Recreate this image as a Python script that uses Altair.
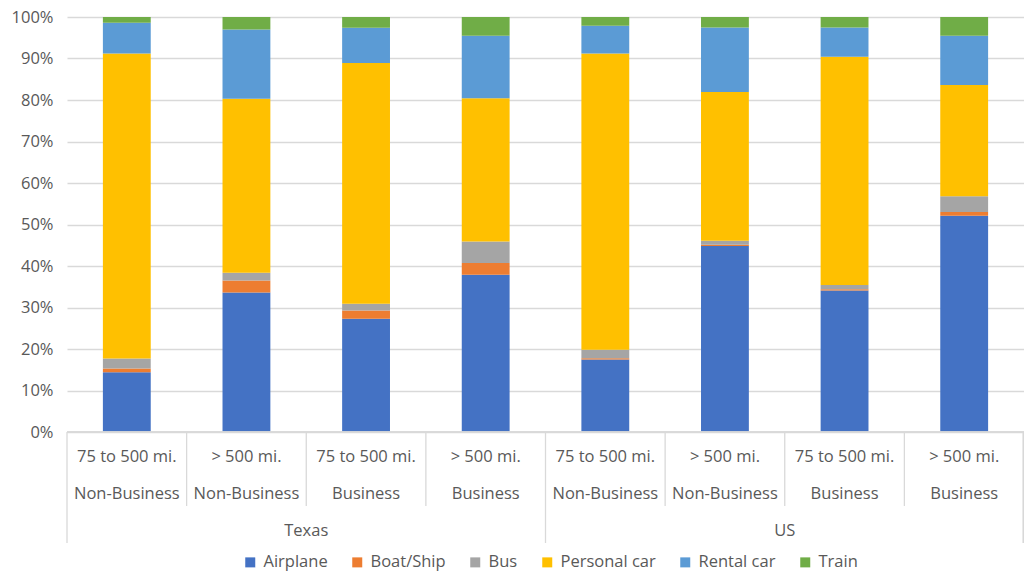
import altair as alt
import pandas as pd

regions = ["Texas"] * 4 + ["US"] * 4
distances = ["75 to 500 mi.", "> 500 mi.", "75 to 500 mi.", "> 500 mi."] * 2
purposes = ["Non-Business", "Non-Business", "Business", "Business"] * 2
modes = ["Airplane", "Boat/Ship", "Bus", "Personal car", "Rental car", "Train"]
colors = ["#4472C4", "#ED7D31", "#A5A5A5", "#FFC000", "#5B9BD5", "#70AD47"]

airplane = [14.4, 33.6, 27.3, 37.9, 17.5, 44.8, 34.1, 52.1]
boat = [0.9, 2.9, 2.0, 2.8, 0.3, 0.3, 0.3, 0.9]
bus = [2.4, 1.9, 1.6, 5.2, 2.0, 1.0, 1.0, 3.8]
personal = [73.5, 41.9, 58.0, 34.5, 71.4, 35.8, 55.0, 26.8]
rental = [7.4, 16.7, 8.5, 15.1, 6.7, 15.6, 7.1, 11.9]
train = [1.4, 3.0, 2.6, 4.5, 2.1, 2.5, 2.5, 4.5]

series = [airplane, boat, bus, personal, rental, train]
keys = [f"c{i}" for i in range(8)]

rows = []
for mi, (m, vals) in enumerate(zip(modes, series)):
    for i, v in enumerate(vals):
        rows.append({"key": keys[i], "mode": m, "order": mi, "value": v})
df = pd.DataFrame(rows)

lab = pd.DataFrame({"key": keys, "dist": distances, "purp": purposes})
groups = pd.DataFrame({"key": ["c2", "c6"], "region": ["Texas", "US"]})
tall = pd.DataFrame({"key": ["c0", "c4"]})
short = pd.DataFrame({"key": ["c1", "c2", "c3", "c5", "c6", "c7"]})

W, H = 957, 415
FONT = "Open Sans"
FS = 16.5
GRAY = "#595959"
LINE = "#d9d9d9"

xenc = alt.X("key:N", sort=keys, axis=None,
             scale=alt.Scale(paddingInner=0, paddingOuter=0))

bars = alt.Chart(df).mark_bar(width={"band": 0.4}).encode(
    x=xenc,
    y=alt.Y("value:Q", stack="normalize",
            scale=alt.Scale(domain=[0, 1], nice=False),
            axis=alt.Axis(format="%", values=[i / 10 for i in range(11)],
                          title=None, domain=False, ticks=False,
                          gridColor=LINE, gridWidth=1.3,
                          labelFont=FONT, labelFontSize=FS, labelColor=GRAY,
                          labelPadding=14)),
    color=alt.Color("mode:N", sort=modes,
                    scale=alt.Scale(domain=modes, range=colors),
                    legend=alt.Legend(title=None, orient="none",
                                      direction="horizontal",
                                      legendX=175, legendY=537,
                                      symbolType="square", symbolSize=100,
                                      symbolStrokeWidth=0,
                                      labelFont=FONT, labelFontSize=FS,
                                      labelColor=GRAY, columnPadding=21,
                                      labelOffset=5)),
    order=alt.Order("order:Q", sort="ascending"),
)

sep_short = alt.Chart(short).mark_rule(color=LINE, strokeWidth=1.3).encode(
    x=alt.X("key:N", sort=keys, bandPosition=0, axis=None),
    y=alt.value(H), y2=alt.value(H + 74),
)
sep_tall = alt.Chart(tall).mark_rule(color=LINE, strokeWidth=1.3).encode(
    x=alt.X("key:N", sort=keys, bandPosition=0, axis=None),
    y=alt.value(H), y2=alt.value(H + 111),
)
sep_right = alt.Chart(tall).mark_rule(color=LINE, strokeWidth=1.3).encode(
    x=alt.value(W - 0.7), y=alt.value(H), y2=alt.value(H + 111),
)
base_line = alt.Chart(tall).mark_rule(color=LINE, strokeWidth=1.3).encode(
    x=alt.value(0), x2=alt.value(W), y=alt.value(H),
)

t1 = alt.Chart(lab).mark_text(font=FONT, fontSize=FS, color=GRAY,
                              baseline="middle").encode(
    x=alt.X("key:N", sort=keys, axis=None), y=alt.value(H + 25), text="dist:N")
t2 = alt.Chart(lab).mark_text(font=FONT, fontSize=FS, color=GRAY,
                              baseline="middle").encode(
    x=alt.X("key:N", sort=keys, axis=None), y=alt.value(H + 62), text="purp:N")
t3 = alt.Chart(groups).mark_text(font=FONT, fontSize=FS, color=GRAY,
                                 baseline="middle").encode(
    x=alt.X("key:N", sort=keys, bandPosition=0, axis=None),
    y=alt.value(H + 99), text="region:N")

chart = alt.layer(bars, base_line, sep_short, sep_tall, sep_right, t1, t2, t3).properties(
    width=W, height=H,
    autosize=alt.AutoSizeParams(type="none"),
    padding={"left": 59, "top": 9, "right": 0, "bottom": 139},
).configure_view(stroke=None)

chart.save("out.html", embed_options={"renderer": "svg", "actions": False})
